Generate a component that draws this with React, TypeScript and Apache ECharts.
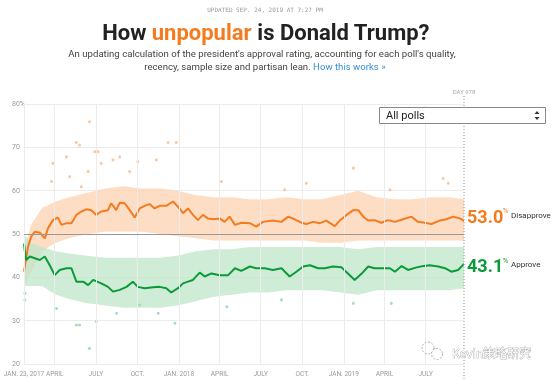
import React, { useEffect, useRef } from 'react';
import * as echarts from 'echarts';

const tickDays = [0, 68, 159, 251, 343, 433, 524, 616, 708, 798, 889];
const tickLabels = ['JAN. 23, 2017', 'APRIL', 'JULY', 'OCT.', 'JAN. 2018', 'APRIL', 'JULY', 'OCT.', 'JAN. 2019', 'APRIL', 'JULY'];

const disDays = [0, 9, 16, 24, 35, 46, 53, 64, 75, 83, 94, 105, 116, 127, 138, 149, 160, 171, 186, 193, 204, 212, 223, 234, 245, 256, 267, 278, 289, 300, 315, 330, 341, 352, 363, 374, 385, 396, 407, 419, 433, 444, 455, 467, 481, 500, 514, 529, 551, 570, 585, 599, 614, 625, 640, 655, 669, 688, 699, 714, 729, 740, 751, 762, 776, 791, 806, 821, 839, 858, 872, 887, 902, 920, 935, 950, 965, 974];
const disValues = [41.3, 47.1, 49.4, 50.5, 50.3, 49.0, 51.3, 53.2, 53.8, 52.1, 52.5, 52.5, 54.4, 55.2, 55.7, 55.5, 54.4, 55.2, 55.5, 57.1, 55.5, 57.2, 57.1, 55.5, 53.8, 55.9, 56.5, 56.9, 55.9, 56.5, 56.5, 57.5, 56.3, 54.8, 55.9, 54.4, 53.2, 54.4, 53.6, 53.4, 53.6, 52.8, 54.0, 52.1, 52.6, 52.5, 51.7, 52.8, 53.1, 52.8, 54.0, 53.4, 52.6, 52.3, 52.8, 52.5, 53.1, 51.8, 53.1, 54.4, 55.5, 55.5, 54.0, 53.1, 53.2, 52.6, 53.2, 52.8, 53.4, 54.0, 52.8, 52.6, 52.3, 53.1, 53.4, 54.0, 53.6, 53.0];

const appDays = [0, 3, 5, 13, 24, 35, 46, 57, 68, 79, 94, 105, 116, 131, 142, 153, 171, 186, 197, 212, 227, 241, 252, 267, 286, 300, 315, 326, 341, 352, 363, 374, 389, 400, 415, 433, 452, 467, 481, 500, 514, 533, 551, 570, 588, 603, 618, 633, 651, 666, 684, 703, 717, 732, 747, 762, 776, 795, 810, 821, 836, 850, 869, 884, 898, 917, 932, 946, 961, 974];
const appValues = [47.8, 45.0, 44.0, 44.8, 44.4, 44.0, 44.8, 42.8, 40.5, 41.7, 42.1, 42.1, 39.0, 39.0, 38.2, 39.4, 38.6, 37.8, 36.7, 37.1, 37.8, 39.0, 37.8, 37.5, 37.7, 37.8, 37.5, 36.5, 37.5, 38.6, 39.0, 39.4, 41.1, 40.2, 40.9, 40.5, 40.5, 42.1, 41.5, 42.5, 42.1, 42.1, 41.7, 42.1, 40.2, 41.3, 42.5, 42.8, 42.1, 42.1, 42.5, 42.3, 40.9, 39.4, 40.8, 42.5, 42.1, 42.1, 42.1, 41.3, 42.6, 41.7, 42.3, 42.6, 42.8, 42.5, 42.1, 41.3, 41.7, 43.1];

const bandDays = [0, 15, 40, 70, 100, 140, 180, 220, 260, 300, 340, 380, 420, 460, 500, 540, 580, 620, 660, 700, 740, 780, 820, 860, 900, 940, 974];
const disHi = [46, 52, 56, 57.5, 58.5, 59.5, 60.5, 61, 60.5, 60.5, 60, 59, 58.5, 58.5, 58, 58, 58.5, 58, 58, 59, 60, 58.5, 58, 58, 58.5, 58.5, 58];
const disLo = [38, 41, 46, 48, 49, 50, 50.5, 50.5, 50.5, 50, 49.5, 49, 48.5, 48.5, 48.5, 48.5, 48.5, 48.5, 48, 48, 48.5, 48.5, 48.5, 48.5, 48.5, 48.5, 48.5];
const appHi = [50, 48, 47, 46, 45.5, 45, 44.5, 44.5, 44.5, 44.5, 45, 46, 46.5, 46.5, 47, 47, 47, 47, 47, 47, 46.5, 47, 47, 47, 47, 47, 47];
const appLo = [38, 38, 38, 36, 35, 34, 33.5, 33, 33, 33, 33.5, 34.5, 35.5, 36, 36.5, 36.5, 37, 37, 37, 36.5, 36, 37, 37, 37, 37, 37, 37.5];

const disOutDays = [145, 116, 123, 157, 164, 319, 337, 64, 94, 142, 171, 197, 212, 252, 293, 61, 101, 127, 234, 437, 577, 729, 810, 928, 939, 625];
const disOutValues = [75.9, 71.1, 70.5, 69.0, 69.0, 71.1, 71.1, 66.3, 67.8, 64.4, 66.3, 67.1, 67.8, 66.7, 67.1, 62.1, 63.2, 60.9, 64.4, 62.1, 60.2, 65.2, 60.2, 62.8, 61.7, 61.7];
const appOutDays = [145, 116, 123, 160, 72, 334, 297, 570, 729, 813, 205, 2, 2, 256, 449];
const appOutValues = [23.6, 29.0, 29.0, 29.8, 32.8, 29.4, 31.7, 34.8, 34.0, 34.0, 31.7, 34.8, 36.3, 33.6, 33.2];

const lastDay = 974;
const dayLabel = 'DAY 978';
const currentDisapprove = 53.0;
const currentApprove = 43.1;

const ORANGE = '#f47b20';
const GREEN = '#0b9a3a';

function bandSeries(hi: number[], lo: number[], color: string) {
  return {
    type: 'custom', silent: true, z: 1,
    data: [[0]],
    renderItem: (_params: any, api: any) => {
      const pts: number[][] = [];
      for (let i = 0; i < bandDays.length; i++) pts.push(api.coord([bandDays[i], hi[i]]));
      for (let i = bandDays.length - 1; i >= 0; i--) pts.push(api.coord([bandDays[i], lo[i]]));
      return { type: 'polygon', shape: { points: pts }, style: { fill: color, opacity: 0.75 } };
    },
  };
}

export default function App() {
  const ref = useRef<HTMLDivElement>(null);
  useEffect(() => {
    document.body.style.margin = '0';
    if (!ref.current) return;
    const chart = echarts.init(ref.current, null, { renderer: 'svg' });
    const option: any = {
      animation: false,
      grid: { left: 24, right: 90, top: 104, bottom: 16 },
      xAxis: {
        type: 'value', min: 0, max: lastDay,
        axisLine: { show: false }, axisTick: { show: false }, splitLine: { show: false },
        axisLabel: {
          customValues: tickDays,
          formatter: (v: number) => { const i = tickDays.indexOf(v); return i >= 0 ? tickLabels[i] : ''; },
          fontSize: 6.5, color: '#999', margin: 6, fontFamily: 'Roboto',
        },
      },
      yAxis: {
        type: 'value', min: 20, max: 80, interval: 10,
        axisLine: { show: false }, axisTick: { show: false },
        splitLine: { lineStyle: { color: '#ececec', width: 1 } },
        axisLabel: {
          align: 'left', margin: 12, fontSize: 7, color: '#999', fontFamily: 'Roboto',
          formatter: (v: number) => (v === 80 ? '80%' : String(v)),
        },
      },
      series: [
        {
          type: 'line', symbol: 'none', silent: true, lineStyle: { width: 0 }, z: 0,
          data: [],
          markLine: {
            silent: true, symbol: ['none', 'none'], label: { show: false },
            lineStyle: { color: '#ececec', type: 'solid', width: 1 },
            data: tickDays.map((d) => ({ xAxis: d })),
          },
        },
        bandSeries(disHi, disLo, '#fcd3b0'),
        bandSeries(appHi, appLo, '#bfe6ca'),
        {
          type: 'scatter', symbolSize: 3, silent: true,
          itemStyle: { color: '#f9b98a', opacity: 0.8 },
          data: disOutDays.map((d, i) => [d, disOutValues[i]]),
        },
        {
          type: 'scatter', symbolSize: 3, silent: true,
          itemStyle: { color: '#9fd8ae', opacity: 0.9 },
          data: appOutDays.map((d, i) => [d, appOutValues[i]]),
        },
        {
          type: 'line', symbol: 'none', silent: true, z: 3,
          lineStyle: { color: ORANGE, width: 2 },
          data: disDays.map((d, i) => [d, disValues[i]]),
          markLine: {
            silent: true, symbol: ['none', 'none'], label: { show: false },
            lineStyle: { color: '#999', type: 'solid', width: 1 },
            data: [{ yAxis: 50 }],
          },
        },
        {
          type: 'line', symbol: 'none', silent: true, z: 3,
          lineStyle: { color: GREEN, width: 2 },
          data: appDays.map((d, i) => [d, appValues[i]]),
        },
      ],
    };
    chart.setOption(option);

    const xEnd = chart.convertToPixel({ xAxisIndex: 0 }, lastDay) as number;
    const yDis = chart.convertToPixel({ yAxisIndex: 0 }, currentDisapprove) as number;
    const yApp = chart.convertToPixel({ yAxisIndex: 0 }, currentApprove) as number;

    const graphic: any[] = [
      {
        type: 'text', x: 265, y: 9, silent: true,
        style: { text: 'UPDATED SEP. 24, 2019 AT 7:27 PM', fontFamily: 'DejaVu Sans Mono', fontSize: 6, fill: '#999', align: 'center', verticalAlign: 'middle' },
      },
      {
        type: 'text', x: 266, y: 32, silent: true,
        style: {
          text: '{a|How }{b|unpopular}{a| is Donald Trump?}',
          align: 'center', verticalAlign: 'middle',
          rich: {
            a: { fontFamily: 'Roboto', fontWeight: 'bold', fontSize: 22, fill: '#222' },
            b: { fontFamily: 'Roboto', fontWeight: 'bold', fontSize: 22, fill: '#f47b20' },
          },
        },
      },
      {
        type: 'text', x: 262, y: 53, silent: true,
        style: { text: "An updating calculation of the president's approval rating, accounting for each poll's quality,", fontFamily: 'Roboto', fontSize: 9.6, fill: '#444', align: 'center', verticalAlign: 'middle' },
      },
      {
        type: 'text', x: 265, y: 66, silent: true,
        style: {
          text: '{a|recency, sample size and partisan lean. }{b|How this works »}',
          align: 'center', verticalAlign: 'middle',
          rich: {
            a: { fontFamily: 'Roboto', fontSize: 9.6, fill: '#444' },
            b: { fontFamily: 'Roboto', fontSize: 9.6, fill: '#3a8fd6' },
          },
        },
      },
      {
        type: 'rect', z: 100, shape: { x: 379.5, y: 107.5, width: 166, height: 16 }, silent: true,
        style: { fill: '#fff', stroke: '#888', lineWidth: 1 },
      },
      {
        type: 'text', z: 101, x: 386, y: 115.5, silent: true,
        style: { text: 'All polls', fontFamily: 'Roboto', fontSize: 11, fill: '#222', verticalAlign: 'middle' },
      },
      { type: 'polygon', z: 101, shape: { points: [[534.5, 114], [539.5, 114], [537, 111]] }, style: { fill: '#333' }, silent: true },
      { type: 'polygon', z: 101, shape: { points: [[534.5, 117], [539.5, 117], [537, 120]] }, style: { fill: '#333' }, silent: true },
      {
        type: 'line', z: 90, silent: true, shape: { x1: xEnd, y1: 96, x2: xEnd, y2: 380 },
        style: { stroke: '#999', lineWidth: 1, lineDash: [1, 2] },
      },
      {
        type: 'text', x: xEnd, y: 91, silent: true,
        style: { text: dayLabel, fontFamily: 'Roboto', fontSize: 6, fill: '#aaa', align: 'center', verticalAlign: 'middle' },
      },
      {
        type: 'text', x: xEnd + 3, y: yDis - 5, silent: true,
        style: { text: currentDisapprove.toFixed(1), fontFamily: 'Roboto', fontWeight: 'bold', fontSize: 18, fill: ORANGE, verticalAlign: 'middle' },
      },
      {
        type: 'text', x: xEnd + 39, y: yDis - 10, silent: true,
        style: { text: '%', fontFamily: 'Roboto', fontSize: 7, fill: ORANGE, verticalAlign: 'middle' },
      },
      {
        type: 'text', x: xEnd + 47, y: yDis - 6, silent: true,
        style: { text: 'Disapprove', fontFamily: 'Roboto', fontSize: 8, fill: '#333', verticalAlign: 'middle' },
      },
      {
        type: 'text', x: xEnd + 3, y: yApp + 2, silent: true,
        style: { text: currentApprove.toFixed(1), fontFamily: 'Roboto', fontWeight: 'bold', fontSize: 18, fill: GREEN, verticalAlign: 'middle' },
      },
      {
        type: 'text', x: xEnd + 39, y: yApp - 3, silent: true,
        style: { text: '%', fontFamily: 'Roboto', fontSize: 7, fill: GREEN, verticalAlign: 'middle' },
      },
      {
        type: 'text', x: xEnd + 47, y: yApp + 1, silent: true,
        style: { text: 'Approve', fontFamily: 'Roboto', fontSize: 8, fill: '#333', verticalAlign: 'middle' },
      },
      {
        type: 'circle', z: 100, silent: true, shape: { cx: 428, cy: 348, r: 6 },
        style: { fill: 'none', stroke: '#aaa', lineWidth: 1, lineDash: [2, 1.5] },
      },
      {
        type: 'circle', z: 100, silent: true, shape: { cx: 437, cy: 354, r: 5.5 },
        style: { fill: '#fff', stroke: '#aaa', lineWidth: 1, lineDash: [2, 1.5] },
      },
      {
        type: 'text', z: 100, x: 452, y: 352, silent: true,
        style: { text: 'Kevin策略研究', fontFamily: 'Noto Sans CJK SC', fontSize: 12, fill: '#fff', stroke: '#9a9a9a', lineWidth: 0.7, verticalAlign: 'middle' },
      },
    ];
    chart.setOption({ graphic });

    return () => chart.dispose();
  }, []);
  return <div ref={ref} style={{ position: 'fixed', left: 0, top: 0, width: 554, height: 380 }} />;
}
